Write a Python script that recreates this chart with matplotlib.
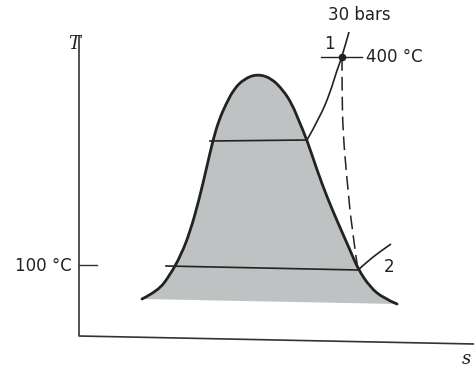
import matplotlib.pyplot as plt
from matplotlib.path import Path
from matplotlib.patches import PathPatch

# 図の座標（左上原点のピクセル単位で読み取った値）
dome_s = [142, 158, 170, 181, 190, 199, 207, 213, 219, 226, 234, 244, 257,
          271, 283, 292, 299, 307, 317, 327, 338, 350, 358, 370, 383, 397]
dome_T = [299, 291, 275, 255, 232, 200, 166, 140, 120, 104, 89, 79, 74,
          78, 90, 104, 121, 140, 170, 197, 223, 250, 269, 287, 298, 304]

# 30 bar 等圧線（湿り域の水平部＋過熱域）
hp_s = [210, 307, 320, 330, 337, 342, 349]
hp_T = [141, 140, 117, 93, 70, 57, 32]

# 100 °C 等圧線
lp_s = [166, 358, 367, 378, 391]
lp_T = [266, 270, 262, 253, 244]

# 等エントロピー膨張（破線）
exp_s = [342, 342, 343, 347, 352, 358]
exp_T = [57, 93, 133, 180, 230, 270]

# 状態点
state1 = (342, 57)
state2 = (358, 270)

# 軸
axis_s = [79, 79, 474]
axis_T = [36, 336, 344]

ink = '#222222'


def smooth_path(xs, ys, close=False):
    """読み取った点を制御点とする2次ベジェ曲線のパス"""
    pts = list(zip(xs, ys))
    verts = [pts[0]]
    codes = [Path.MOVETO]
    for i in range(1, len(pts) - 1):
        mid = ((pts[i][0] + pts[i + 1][0]) / 2, (pts[i][1] + pts[i + 1][1]) / 2)
        if i == len(pts) - 2:
            mid = pts[-1]
        verts += [pts[i], mid]
        codes += [Path.CURVE3, Path.CURVE3]
    if close:
        verts.append(pts[0])
        codes.append(Path.CLOSEPOLY)
    return Path(verts, codes)


fig = plt.figure(figsize=(4.74, 3.68), dpi=100)
ax = fig.add_axes([0, 0, 1, 1])
ax.set_xlim(0, 474)
ax.set_ylim(368, 0)
ax.axis('off')

# 湿り域の塗りつぶし
ax.add_patch(PathPatch(smooth_path(dome_s, dome_T, close=True),
                       facecolor='#bfc2c2', edgecolor='none'))
ax.add_patch(PathPatch(smooth_path(dome_s, dome_T), facecolor='none',
                       edgecolor=ink, lw=2.0, capstyle='round'))

# 等圧線（水平部は直線、その先を曲線で）
ax.plot(hp_s[:2], hp_T[:2], color=ink, lw=1.2)
ax.add_patch(PathPatch(smooth_path(hp_s[1:], hp_T[1:]), facecolor='none',
                       edgecolor=ink, lw=1.2))
ax.plot(lp_s[:2], lp_T[:2], color=ink, lw=1.2)
ax.add_patch(PathPatch(smooth_path(lp_s[1:], lp_T[1:]), facecolor='none',
                       edgecolor=ink, lw=1.2))
ax.add_patch(PathPatch(smooth_path(exp_s, exp_T), facecolor='none',
                       edgecolor=ink, lw=1.1, linestyle=(0, (9, 4))))

# 軸
ax.plot(axis_s, axis_T, color='#333333', lw=1.2)
ax.plot([79, 97], [265, 265], color='#333333', lw=1.0)

# 状態点1
ax.plot([321, 362], [state1[1], state1[1]], color=ink, lw=1.0)
ax.plot(*state1, 'o', color=ink, ms=4.5)

txt = dict(family=['DejaVu Sans'], color='#222222', fontsize=12)
ax.text(359, 15, '30 bars', ha='center', va='center', **txt)
ax.text(329, 44, '1', ha='center', va='center', **txt)
ax.text(366, 57, '400 °C', ha='left', va='center', **txt)
ax.text(389, 267, '2', ha='center', va='center', **txt)
ax.text(72, 266, '100 °C', ha='right', va='center', **txt)
ax.text(74, 44, 'T', fontsize=13, ha='center', va='center',
        family='DejaVu Serif', style='italic', color='#222222')
ax.text(466, 359, 's', fontsize=13, ha='center', va='center',
        family='DejaVu Serif', style='italic', color='#222222')

plt.savefig('out.png', dpi=100)
